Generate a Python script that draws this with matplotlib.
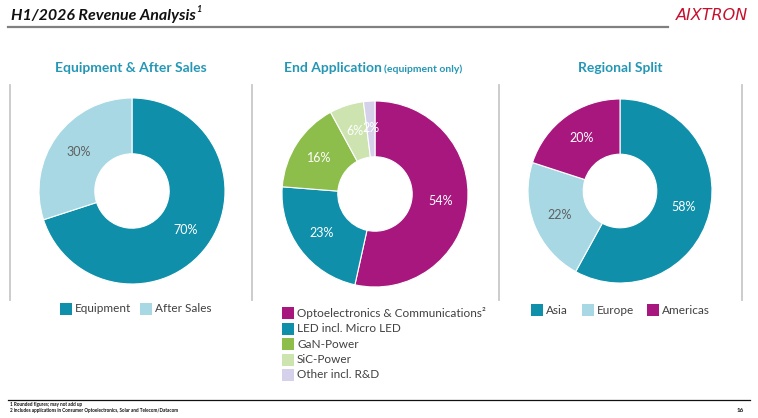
import matplotlib
matplotlib.use("Agg")
import matplotlib.pyplot as plt
from matplotlib.patches import Rectangle
from matplotlib.lines import Line2D

plt.rcParams['font.family'] = ['Lato', 'DejaVu Sans']

# ---------------- data ----------------
seg_labels = ["Equipment", "After Sales"]
seg_values = [70, 30]

app_labels = ["Optoelectronics & Communications\u00b2", "LED incl. Micro LED",
              "GaN-Power", "SiC-Power", "Other incl. R&D"]
app_values = [54, 23, 16, 6, 2]

reg_labels = ["Asia", "Europe", "Americas"]
reg_values = [58, 22, 20]

# ---------------- styles ----------------
TEAL = "#0f8faa"
LIGHTBLUE = "#a7d8e4"
MAGENTA = "#a8177e"
GREEN = "#8dbd4b"
LIGHTGREEN = "#cde4b1"
LAVENDER = "#d5d1ea"
TITLE_C = "#2497b5"
GRAY_TXT = "#606060"

seg_colors = [TEAL, LIGHTBLUE]
seg_txt = ["white", GRAY_TXT]
app_colors = [MAGENTA, TEAL, GREEN, LIGHTGREEN, LAVENDER]
app_txt = ["white", "white", "white", "white", "white"]
reg_colors = [TEAL, LIGHTBLUE, MAGENTA]
reg_txt = ["white", GRAY_TXT, "white"]

W, H = 758, 418
fig = plt.figure(figsize=(W / 100, H / 100), dpi=100)
fig.patch.set_facecolor("white")


def fx(x):
    return x / W


def fy(y):
    return 1 - y / H


# ---------------- header ----------------
fig.text(fx(11), fy(16), "H1/2026 Revenue Analysis", fontsize=11.5, fontweight="bold",
         fontstyle="italic", ha="left", va="center", color="#111111")
fig.text(fx(196), fy(10), "1", fontsize=6.5, fontweight="bold", fontstyle="italic",
         ha="left", va="center", color="#111111")
fig.add_artist(Line2D([fx(8), fx(668)], [fy(27), fy(27)], color="#808080", lw=1.6))
fig.text(fx(712), fy(16), "AIXTRON", fontsize=11.5, fontstyle="italic", color="#c8102e",
         ha="center", va="center", family=["DejaVu Sans"], fontweight="normal")

# ---------------- separators ----------------
for x in [10, 252, 499, 742]:
    fig.add_artist(Line2D([fx(x), fx(x)], [fy(85), fy(300)], color="#c8c8c8", lw=1.3))

# ---------------- panel titles ----------------
fig.text(fx(131), fy(68), "Equipment & After Sales", fontsize=10, fontweight="bold",
         color=TITLE_C, ha="center", va="center")
t1 = fig.text(fx(284), fy(68), "End Application", fontsize=10, fontweight="bold",
              color=TITLE_C, ha="left", va="center")
fig.text(fx(384), fy(69), "(equipment only)", fontsize=7.5, fontweight="bold",
         color=TITLE_C, ha="left", va="center")
fig.text(fx(620), fy(68), "Regional Split", fontsize=10, fontweight="bold",
         color=TITLE_C, ha="center", va="center")


# ---------------- donuts ----------------
def donut(cx, cy, R, values, colors, txtcolors):
    ax = fig.add_axes([fx(cx - R), fy(cy + R), 2 * R / W, 2 * R / H])
    total = sum(values)
    wedges, texts, autotexts = ax.pie(
        values, colors=colors, startangle=90, counterclock=False, radius=1,
        wedgeprops=dict(width=0.6, edgecolor="white", linewidth=0.8),
        autopct=lambda p: f"{round(p * total / 100):.0f}%", pctdistance=0.71,
        textprops=dict(fontsize=9))
    for t, c in zip(autotexts, txtcolors):
        t.set_color(c)
    ax.set_xlim(-1, 1)
    ax.set_ylim(-1, 1)
    ax.set_aspect("equal")
    ax.axis("off")
    return ax


donut(132, 191, 93, seg_values, seg_colors, seg_txt)
donut(375, 194, 93, app_values, app_colors, app_txt)
donut(620, 191, 92, reg_values, reg_colors, reg_txt)


# ---------------- legends ----------------
def legend_item(x, y, color, label, size=12):
    fig.add_artist(Rectangle((fx(x), fy(y + size / 2)), size / W, size / H,
                             facecolor=color, edgecolor="none"))
    fig.text(fx(x + size + 3), fy(y), label, fontsize=8.5, color="#404040",
             ha="left", va="center")


for x, c, l in zip([60, 140], seg_colors, seg_labels):
    legend_item(x, 309, c, l)

for y, c, l in zip([313, 328.5, 344, 359.5, 375], app_colors, app_labels):
    legend_item(282, y, c, l)

for x, c, l in zip([531, 582, 647], reg_colors, reg_labels):
    legend_item(x, 310, c, l)

# ---------------- footer ----------------
fig.add_artist(Line2D([fx(8), fx(750)], [fy(400), fy(400)], color="#111111", lw=0.9))
fig.text(fx(10), fy(404.5), "1 Rounded figures; may not add up", fontsize=3.3,
         fontweight="bold", ha="left", va="center", color="#111111")
fig.text(fx(10), fy(410.5),
         "2 includes applications in Consumer Optoelectronics, Solar and Telecom/Datacom",
         fontsize=3.3, fontweight="bold", ha="left", va="center", color="#111111")
fig.text(fx(740), fy(410), "16", fontsize=4.5, fontweight="bold", ha="center",
         va="center", color="#111111")

fig.savefig("out.png", dpi=100, facecolor="white")
